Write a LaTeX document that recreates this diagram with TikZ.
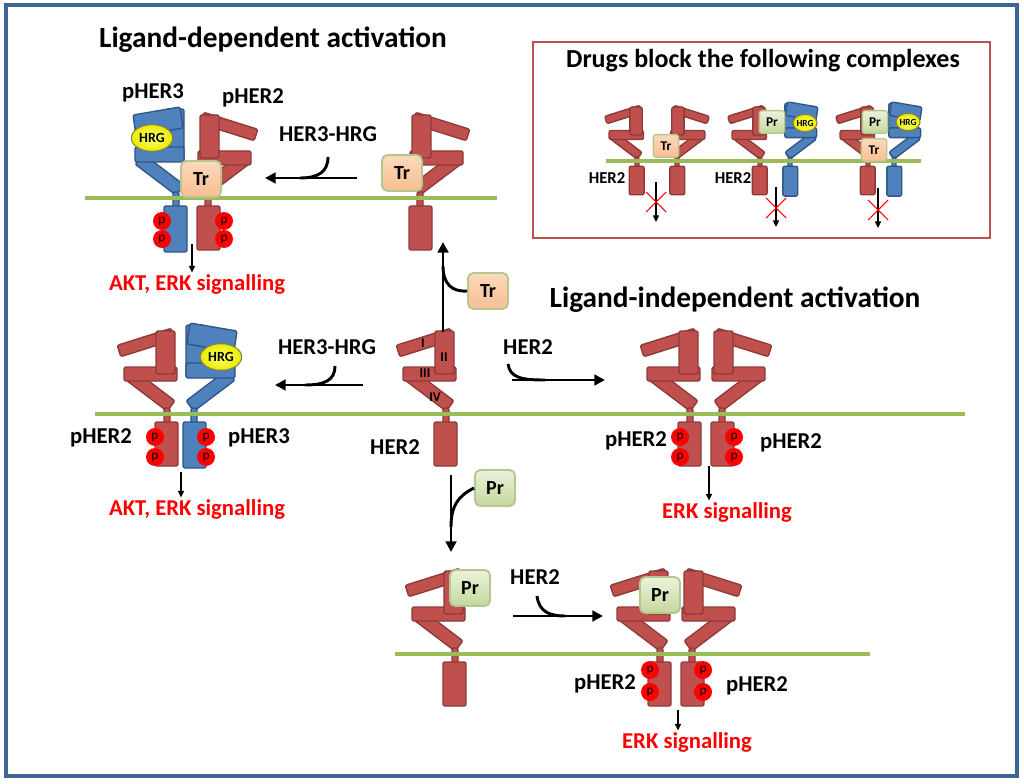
\documentclass[tikz,border=0pt]{standalone}
\usepackage{fontspec}
\setmainfont{Carlito}
\usepackage{xcolor}
\usetikzlibrary{positioning, arrows.meta, calc, shapes.geometric}

\definecolor{herred}{HTML}{C0504D}
\definecolor{herredline}{HTML}{8C3A38}
\definecolor{herblue}{HTML}{4F81BD}
\definecolor{herblueline}{HTML}{2F5485}
\definecolor{membgreen}{HTML}{9BBB59}
\definecolor{framblue}{HTML}{3F6596}
\definecolor{trtop}{HTML}{FCD9BC}
\definecolor{trbot}{HTML}{F8BE92}
\definecolor{prtop}{HTML}{EBF2DC}
\definecolor{prbot}{HTML}{C4D89C}
\definecolor{boxline}{HTML}{B5C68E}

\tikzset{
  recR/.style={fill=herred, draw=herredline, line width=1pt, rounded corners=1.5pt},
  recB/.style={fill=herblue, draw=herblueline, line width=1pt, rounded corners=1.5pt},
  memb/.style={draw=membgreen, line width=3pt},
  pics/hertwo/.style={code={
    \path[#1] (-49.8,-68.7) -- (4.2,-85.7) -- (7.8,-74.3) -- (-46.2,-57.3) -- cycle;
    \path[#1] (-33.1,-44.2) -- (7.9,-13.2) -- (0.1,-2.8) -- (-40.9,-33.8) -- cycle;
    \path[#1] (-43,-47) rectangle (10,-33);
    \path[#1] (-11,-83) rectangle (8,-40);
    \path[#1] (-3,-6) rectangle (3,10);
    \path[#1] (-12,8) rectangle (11,52);
  }},
  pics/herthree/.style={code={
    \path[#1] (-33.1,-44.2) -- (7.9,-13.2) -- (0.1,-2.8) -- (-40.9,-33.8) -- cycle;
    \path[#1] (-10,-89) rectangle (8,-37);
    \path[#1] (-43,-83) -- (4,-91) -- (7,-70) -- (-40,-62) -- cycle;
    \path[#1] (-41,-51) rectangle (8,-36);
    \path[#1] (-3,-6) rectangle (3,10);
    \path[#1] (-12,8) rectangle (11,54);
  }},
  lbl/.style={font=\bfseries\fontsize{17}{20}\selectfont, inner sep=1pt},
  sigtxt/.style={lbl, text=red},
  head/.style={font=\bfseries\fontsize{22}{26}\selectfont},
  ihead/.style={font=\bfseries\fontsize{19.5}{23}\selectfont},
  ilbl/.style={font=\bfseries\fontsize{12.5}{15}\selectfont, inner sep=1pt},
  roman/.style={font=\bfseries\fontsize{10}{12}\selectfont, inner sep=0pt},
  trbox/.style={draw=boxline, line width=1.4pt, rounded corners=4pt, top color=trtop,
    bottom color=trbot, minimum width=30pt, minimum height=27pt, inner sep=0pt,
    font=\bfseries\fontsize{15}{15}\selectfont},
  prbox/.style={trbox, top color=prtop, bottom color=prbot},
  itr/.style={trbox, line width=1pt, minimum width=19pt, minimum height=17pt, rounded corners=2pt,
    font=\bfseries\fontsize{10}{10}\selectfont},
  ipr/.style={itr, top color=prtop, bottom color=prbot},
  hrg/.style={ellipse, draw=yellow!45!black, line width=0.8pt, inner color=yellow!55!white,
    outer color=yellow!92!black, minimum width=31pt, minimum height=20pt, inner sep=0pt,
    font=\bfseries\fontsize{10.5}{11}\selectfont},
  ihrg/.style={hrg, minimum width=18pt, minimum height=13pt, font=\bfseries\fontsize{7}{7}\selectfont},
  phos/.style={circle, fill=red, minimum size=13.5pt, inner sep=0pt, font=\fontsize{10}{10}\selectfont},
  rxn/.style={-{Triangle[length=8pt,width=8pt]}, line width=2.2pt},
  feed/.style={line width=2.2pt},
  sig/.style={-{Triangle[length=5pt,width=4.5pt]}, line width=1.1pt},
  blocked/.style={red, line width=0.8pt},
  frame/.style={draw=framblue, line width=2.3pt},
  insetbox/.style={draw=herred, line width=1.6pt},
}

\begin{document}
\begin{tikzpicture}[x=0.75pt, y=-0.75pt]
\useasboundingbox (0,0) rectangle (1024,784);
\draw[frame] (6,5) rectangle (1017,776);

\node[head] (hdep) at (273,40) {Ligand-dependent activation};
\node[head] (hind) at (735,300) {Ligand-independent activation};

% receptors
\pic at (176,198) {herthree=recB};
\pic[xscale=-1] at (208,198) {hertwo=recR};
\pic[xscale=-1] at (420,198) {hertwo=recR};
\pic at (446,414) {hertwo=recR};
\pic at (167,414) {hertwo=recR};
\pic[xscale=-1] at (194,414) {herthree=recB};
\pic at (690,414) {hertwo=recR};
\pic[xscale=-1] at (722,414) {hertwo=recR};
\pic at (455,654) {hertwo=recR};
\pic at (660,654) {hertwo=recR};
\pic[xscale=-1] at (692,654) {hertwo=recR};

% membranes
\draw[memb] (85,198) -- (497,198);
\draw[memb] (95,414) -- (965,414);
\draw[memb] (395,654) -- (870,654);

% drugs and ligands
\node[hrg] (hrgA) at (152,138) {HRG};
\node[hrg] (hrgF) at (221,357) {HRG};
\node[trbox] (trA) at (201,179) {Tr};
\node[trbox] (trB) at (402,173) {Tr};
\node[trbox] (trC) at (488,291) {Tr};
\node[prbox] (prD) at (495,488) {Pr};
\node[prbox] (prJ) at (470,588) {Pr};
\node[prbox] (prL) at (660,595) {Pr};

% phosphates
\foreach \n/\x/\y in {a1/162/221, a2/162/239, a3/224/221, a4/224/239,
  f1/155/437, f2/155/457, f3/206/437, f4/206/457,
  h1/680/437, h2/680/457, h3/734/437, h4/734/457,
  l1/650/670, l2/650/692, l3/703/670, l4/703/692}
  \node[phos] (p\n) at (\x,\y) {p};

% labels
\node[lbl] (pherA3) at (153,93) {pHER3};
\node[lbl] (pherA2) at (253,98) {pHER2};
\node[lbl] (hhA) at (328,134) {HER3-HRG};
\node[sigtxt] (skA) at (197,284) {AKT, ERK signalling};
\node[lbl] (herC) at (395,447) {HER2};
\node[roman] (dI) at (423,343) {I};
\node[roman] (dII) at (444,357) {II};
\node[roman] (dIII) at (425,373) {III};
\node[roman] (dIV) at (435,397) {IV};
\node[lbl] (hhF) at (327,347) {HER3-HRG};
\node[lbl] (pherF2) at (101,438) {pHER2};
\node[lbl] (pherF3) at (259,438) {pHER3};
\node[sigtxt] (skF) at (197,509) {AKT, ERK signalling};
\node[lbl] (herG) at (528,347) {HER2};
\node[lbl] (pherH1) at (636,441) {pHER2};
\node[lbl] (pherH2) at (791,443) {pHER2};
\node[sigtxt] (skH) at (727,512) {ERK signalling};
\node[lbl] (herK) at (535,577) {HER2};
\node[lbl] (pherL1) at (605,684) {pHER2};
\node[lbl] (pherL2) at (757,686) {pHER2};
\node[sigtxt] (skL) at (687,742) {ERK signalling};

% reaction arrows
\coordinate (a1s) at (357,178);
\coordinate (a1e) at (265,178);
\coordinate (f1s) at (328,157);
\coordinate (f1e) at (300,178);
\draw[rxn] (a1s) -- (a1e);
\draw[feed] (f1s) .. controls (328,172) and (318,178) .. (f1e);

\coordinate (a2s) at (443,332);
\coordinate (a2e) at (443,242);
\coordinate (f2e) at (443,266);
\draw[rxn] (a2s) -- (a2e);
\draw[feed] (trC.west) .. controls (452,292) and (443,284) .. (f2e);

\coordinate (a3s) at (363,385);
\coordinate (a3e) at (275,385);
\coordinate (f3s) at (335,366);
\coordinate (f3e) at (305,385);
\draw[rxn] (a3s) -- (a3e);
\draw[feed] (f3s) .. controls (335,380) and (325,385) .. (f3e);

\coordinate (a4s) at (512,380);
\coordinate (a4e) at (605,380);
\coordinate (f4s) at (508,364);
\coordinate (f4e) at (545,380);
\draw[rxn] (a4s) -- (a4e);
\draw[feed] (f4s) .. controls (510,378) and (522,380) .. (f4e);

\coordinate (a5s) at (451,475);
\coordinate (a5e) at (451,552);
\coordinate (f5e) at (451,527);
\draw[rxn] (a5s) -- (a5e);
\draw[feed] (prD.west) .. controls (458,496) and (451,506) .. (f5e);

\coordinate (a6s) at (513,616);
\coordinate (a6e) at (603,616);
\coordinate (f6s) at (537,596);
\coordinate (f6e) at (565,616);
\draw[rxn] (a6s) -- (a6e);
\draw[feed] (f6s) .. controls (539,612) and (550,616) .. (f6e);

% signalling
\coordinate (sA) at (192,244);
\coordinate (sF) at (181,472);
\coordinate (sH) at (709,466);
\coordinate (sL) at (678,710);
\draw[sig] (sA) -- (sA |- skA.north);
\draw[sig] (sF) -- (sF |- skF.north);
\draw[sig] (sH) -- (sH |- skH.north);
\draw[sig] (sL) -- (sL |- skL.north);

% inset
\draw[insetbox] (533,42) rectangle (990,238);
\node[ihead] (ihd) at (763,61) {Drugs block the following complexes};
\pic[scale=.65] at (637,161) {hertwo=recR};
\pic[scale=.65, xscale=-1] at (677,161) {hertwo=recR};
\pic[scale=.65] at (760,161) {hertwo=recR};
\pic[scale=.65, xscale=-1] at (790,161) {herthree=recB};
\pic[scale=.65] at (868,161) {hertwo=recR};
\pic[scale=.65, xscale=-1] at (894,161) {herthree=recB};
\draw[memb] (606,161) -- (921,161);
\node[itr] (itr1) at (666,146) {Tr};
\node[ipr] (ipr2) at (772,122) {Pr};
\node[ihrg] (ihrg2) at (805,123) {HRG};
\node[ipr] (ipr3) at (875,122) {Pr};
\node[itr] (itr3) at (874,150) {Tr};
\node[ihrg] (ihrg3) at (908,122) {HRG};
\node[ilbl] (iher1) at (607,178) {HER2};
\node[ilbl] (iher2) at (733,178) {HER2};
\foreach \n/\x/\y/\c in {1/656/182/202, 2/776/187/208, 3/878/188/210} {
  \coordinate (is\n) at (\x,\y);
  \coordinate (ie\n) at (\x,\y+40);
  \draw[sig] (is\n) -- (ie\n);
  \draw[blocked] (\x-10,\c-10) -- (\x+10,\c+10);
  \draw[blocked] (\x-10,\c+10) -- (\x+10,\c-10);
}
\end{tikzpicture}
\end{document}
